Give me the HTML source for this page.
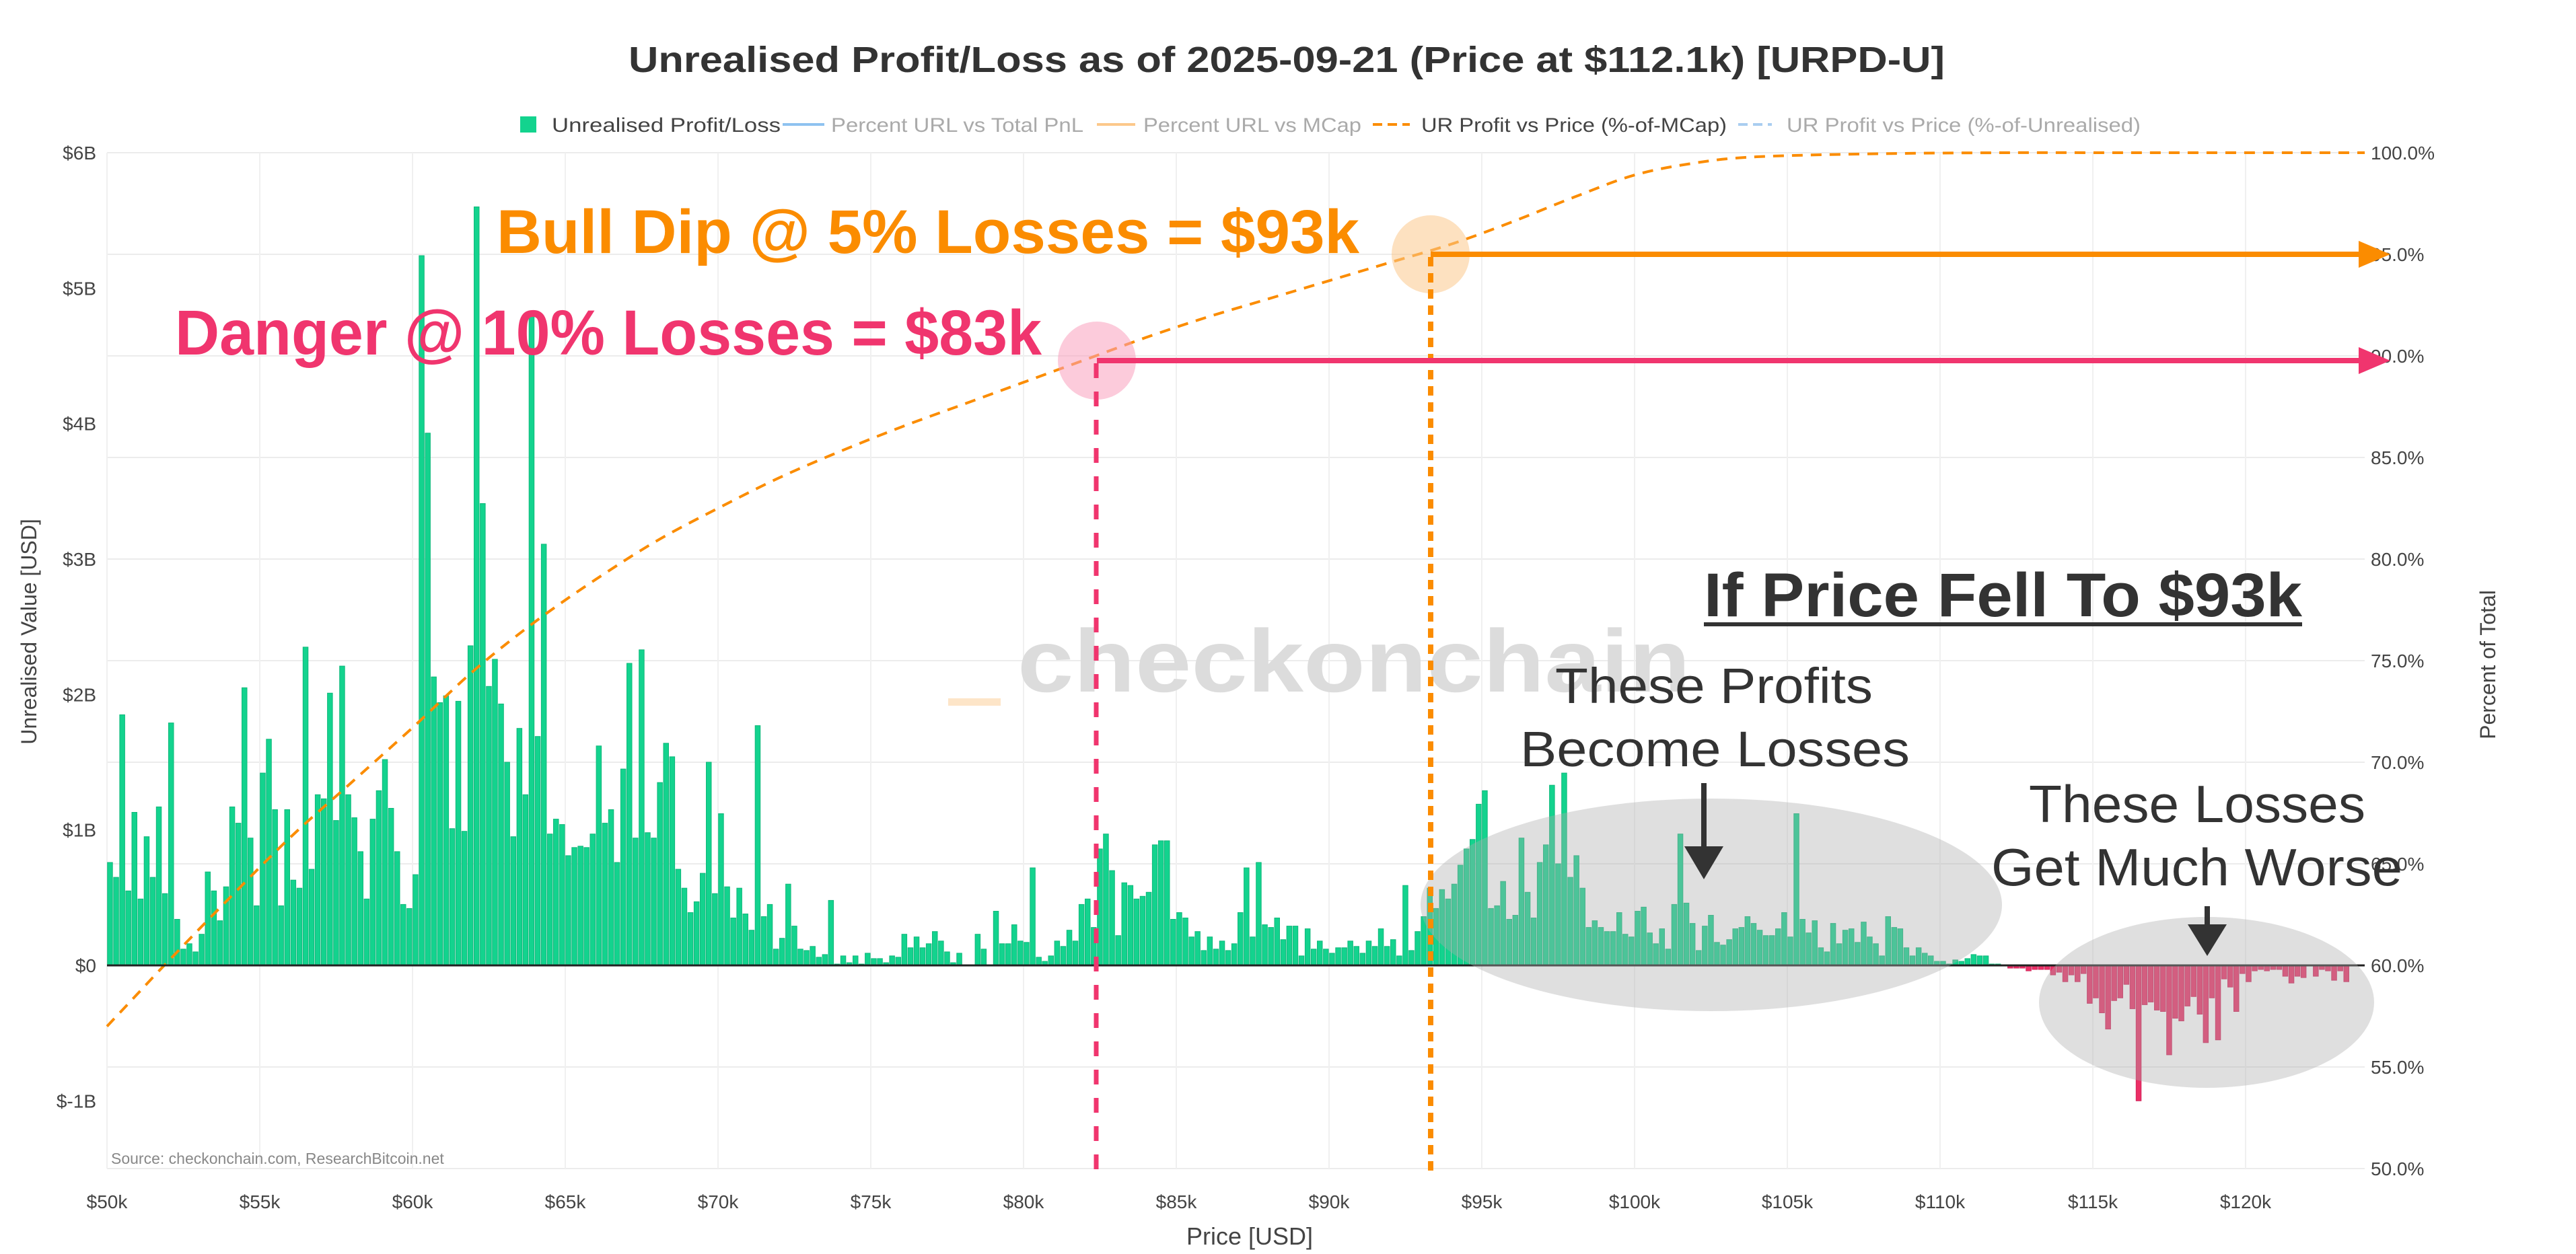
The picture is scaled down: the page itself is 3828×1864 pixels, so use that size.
<!DOCTYPE html>
<html><head><meta charset="utf-8">
<style>
html,body{margin:0;padding:0;background:#fff;}
svg{display:block;font-family:"Liberation Sans",sans-serif;}
</style></head>
<body>
<svg id="chart" width="3828" height="1864" viewBox="0 0 3828 1864" xmlns="http://www.w3.org/2000/svg">
<rect x="0" y="0" width="3828" height="1864" fill="#fff"/>
<g id="grid"></g>
<g id="watermark">
  <rect x="1409" y="1038" width="78" height="11" fill="#fde5c8"/>
  <text x="1512" y="1028" font-size="132" font-weight="bold" fill="#dcdcdc" textLength="1000" lengthAdjust="spacingAndGlyphs">checkonchain</text>
</g>
<g id="bars"></g>
<g id="curve"></g>
<g id="axes"></g>
<g id="annot">
  <ellipse cx="2543" cy="1345" rx="432" ry="158" fill="rgba(170,170,170,0.38)"/>
  <ellipse cx="3279" cy="1490" rx="249" ry="127" fill="rgba(170,170,170,0.38)"/>
  <circle cx="1630" cy="536" r="58" fill="rgba(250,160,190,0.55)"/>
  <circle cx="2126" cy="378" r="58" fill="rgba(252,200,140,0.55)"/>
  <line x1="1629" y1="540" x2="1629" y2="1745" stroke="#f0356e" stroke-width="7" stroke-dasharray="22,20"/>
  <line x1="2126" y1="382" x2="2126" y2="1745" stroke="#fb8c00" stroke-width="8" stroke-dasharray="14,10"/>
  <line x1="1630" y1="536" x2="3515" y2="536" stroke="#f0356e" stroke-width="8"/>
  <polygon points="3505,516 3552,536 3505,556" fill="#f0356e"/>
  <line x1="2126" y1="378" x2="3515" y2="378" stroke="#fb8c00" stroke-width="8"/>
  <polygon points="3505,358 3552,378 3505,398" fill="#fb8c00"/>
  <text x="738" y="376" font-size="92" font-weight="bold" fill="#fb8c00" textLength="1282" lengthAdjust="spacingAndGlyphs">Bull Dip @ 5% Losses = $93k</text>
  <text x="260" y="527" font-size="95" font-weight="bold" fill="#f0356e" textLength="1288" lengthAdjust="spacingAndGlyphs">Danger @ 10% Losses = $83k</text>
  <text x="2532" y="916" font-size="92" font-weight="bold" fill="#333" textLength="889" lengthAdjust="spacingAndGlyphs">If Price Fell To $93k</text>
  <rect x="2532" y="925" width="889" height="6" fill="#333"/>
  <text x="2311" y="1045" font-size="74" fill="#333" textLength="472" lengthAdjust="spacingAndGlyphs">These Profits</text>
  <text x="2259" y="1139" font-size="74" fill="#333" textLength="579" lengthAdjust="spacingAndGlyphs">Become Losses</text>
  <line x1="2532" y1="1164" x2="2532" y2="1262" stroke="#333" stroke-width="8"/>
  <polygon points="2503,1258 2561,1258 2532,1307" fill="#333"/>
  <text x="3015" y="1222" font-size="78" fill="#333" textLength="500" lengthAdjust="spacingAndGlyphs">These Losses</text>
  <text x="2959" y="1316" font-size="78" fill="#333" textLength="611" lengthAdjust="spacingAndGlyphs">Get Much Worse</text>
  <line x1="3280" y1="1347" x2="3280" y2="1378" stroke="#333" stroke-width="8"/>
  <polygon points="3251,1374 3309,1374 3280,1421" fill="#333"/>
</g>
<text x="934" y="107" font-size="54" font-weight="bold" fill="#333" textLength="1956" lengthAdjust="spacingAndGlyphs">Unrealised Profit/Loss as of 2025-09-21 (Price at $112.1k) [URPD-U]</text>
<g>
  <g>
    <rect x="773" y="173" width="24" height="24" fill="#13d38e"/>
    <text x="820" y="196" font-size="30" fill="#444" textLength="340" lengthAdjust="spacingAndGlyphs">Unrealised Profit/Loss</text>
  </g>
  <g>
    <line x1="1163" y1="185" x2="1225" y2="185" stroke="#8ec2f0" stroke-width="4"/>
    <text x="1235" y="196" font-size="30" fill="#aaa" textLength="375" lengthAdjust="spacingAndGlyphs">Percent URL vs Total PnL</text>
  </g>
  <g>
    <line x1="1630" y1="185" x2="1687" y2="185" stroke="#fcc88a" stroke-width="4"/>
    <text x="1699" y="196" font-size="30" fill="#aaa" textLength="324" lengthAdjust="spacingAndGlyphs">Percent URL vs MCap</text>
  </g>
  <g>
    <line x1="2040" y1="185" x2="2095" y2="185" stroke="#fb8c00" stroke-width="4" stroke-dasharray="14,8"/>
    <text x="2112" y="196" font-size="30" fill="#444" textLength="454" lengthAdjust="spacingAndGlyphs">UR Profit vs Price (%-of-MCap)</text>
  </g>
  <g>
    <line x1="2583" y1="185" x2="2633" y2="185" stroke="#a9cdf0" stroke-width="4" stroke-dasharray="14,8"/>
    <text x="2655" y="196" font-size="30" fill="#aaa" textLength="526" lengthAdjust="spacingAndGlyphs">UR Profit vs Price (%-of-Unrealised)</text>
  </g>
</g>
<text x="165" y="1730" font-size="23" fill="#888">Source: checkonchain.com, ResearchBitcoin.net</text>
<text x="1857" y="1850" font-size="36" fill="#444" text-anchor="middle">Price [USD]</text>
<text x="0" y="0" font-size="32" fill="#444" text-anchor="middle" transform="translate(54,939) rotate(-90)">Unrealised Value [USD]</text>
<text x="0" y="0" font-size="32" fill="#444" text-anchor="middle" transform="translate(3708,988) rotate(-90)">Percent of Total</text>
</svg>
<script>
const binStart = 50;   // $k
const binWidth = 0.2;  // $k
const binValues = [
0.76,0.65,1.85,0.55,1.13,0.49,0.95,0.65,1.17,0.53,
1.79,0.34,0.12,0.16,0.10,0.23,0.69,0.55,0.33,0.58,
1.17,1.05,2.05,0.94,0.44,1.42,1.67,1.15,0.44,1.15,
0.63,0.57,2.35,0.71,1.26,1.23,2.01,1.07,2.21,1.26,
1.09,0.84,0.49,1.08,1.29,1.52,1.16,0.84,0.45,0.42,
0.67,5.24,3.93,2.13,1.94,1.99,1.01,1.95,0.99,2.36,
5.60,3.41,2.06,2.26,1.93,1.50,0.95,1.75,1.26,4.79,
1.69,3.11,0.97,1.08,1.04,0.81,0.87,
0.88,0.87,0.97,1.62,1.05,1.15,0.76,1.45,2.23,0.94,2.33,0.98,0.94,1.35,1.64,1.54,0.71,0.57,0.39,0.47,0.68,1.50,0.53,1.12,0.58,0.35,0.57,0.38,0.26,1.77,0.36,0.45,0.12,0.20,0.60,0.29,0.12,0.11,0.14,0.06,0.08,0.48,0.01,0.07,0.02,0.07,0.01,0.09,0.05,0.05,0.02,0.07,0.06,0.23,0.13,0.21,0.13,0.16,0.25,0.18,0.10,0.02,0.09,0,0,0.23,0.12,0,0.40,0.16,0.16,0.30,0.18,0.17,0.72,
0.06,0.03,0.07,0.18,0.14,0.26,0.18,0.45,0.49,0.28,0.86,0.97,0.70,0.22,0.61,0.59,0.49,0.51,0.54,0.89,0.92,0.92,0.34,0.39,0.35,0.21,0.25,0.11,0.21,0.12,0.18,0.11,0.16,0.39,0.72,0.21,0.76,0.30,0.28,0.35,0.19,0.29,0.29,0.07,0.27,0.12,0.18,0.12,0.09,0.13,0.13,0.18,0.14,0.09,0.18,0.14,0.27,0.14,0.19,0.07,0.59,0.11,0.25,0.36,0.57,0.42,0.56,0.49,0.60,0.74,0.86,0.93,1.19,1.29,0.42,
0.44,0.62,0.34,0.37,0.94,0.54,0.35,0.76,0.89,1.33,0.75,1.42,0.65,0.81,0.57,0.28,0.33,0.28,0.25,0.25,0.39,0.23,0.21,0.40,0.43,0.24,0.16,0.27,0.12,0.45,0.97,0.46,0.31,0.11,0.29,0.37,0.17,0.15,0.19,0.27,0.28,0.36,0.31,0.26,0.22,0.22,0.27,0.39,0.21,1.12,0.34,0.24,0.33,0.13,0.10,0.31,0.16,0.26,0.27,0.17,0.32,0.21,0.16,0.07,0.36,0.28,0.27,0.13,0.07,0.13,0.09,0.07,0.03,0.03,0.01,0.04,
0.03,0.05,0.08,0.07,0.07,0.01,0.01,0,
-0.02,-0.02,-0.02,-0.04,-0.03,-0.03,-0.03,-0.07,-0.05,-0.12,-0.07,-0.12,-0.06,-0.28,-0.24,-0.35,-0.47,-0.26,-0.24,-0.14,-0.32,-1.00,-0.29,-0.27,-0.33,-0.34,-0.66,-0.39,-0.41,-0.30,-0.23,-0.36,-0.57,-0.24,-0.55,-0.10,-0.16,-0.34,-0.06,-0.12,-0.04,-0.03,-0.04,-0.03,-0.03,-0.08,-0.13,-0.08,-0.09,0,-0.08,-0.03,-0.04,-0.11,-0.04,-0.12
];
const curvePrices = [50,51,52,54,56,58,60,62,64,66,68,70,72,74,76,78,80,82,84,86,88,90,92,94,96,98,100,102,104,108,112,116,120,123.9];
const curvePct = [57.0,58.6,60.2,63.3,66.3,69.0,71.7,74.5,76.9,79.0,80.9,82.5,84.0,85.3,86.5,87.6,88.7,89.8,90.9,91.9,92.8,93.7,94.6,95.5,96.6,97.8,98.9,99.5,99.8,99.95,100,100,100,100];
const xTicks = [50,55,60,65,70,75,80,85,90,95,100,105,110,115,120];
const xTickLabels = ["$50k","$55k","$60k","$65k","$70k","$75k","$80k","$85k","$90k","$95k","$100k","$105k","$110k","$115k","$120k"];
const yTicks = [-1,0,1,2,3,4,5,6];
const yTickLabels = ["$-1B","$0","$1B","$2B","$3B","$4B","$5B","$6B"];
const pctTicks = [50,55,60,65,70,75,80,85,90,95,100];
const pctTickLabels = ["50.0%","55.0%","60.0%","65.0%","70.0%","75.0%","80.0%","85.0%","90.0%","95.0%","100.0%"];

const NS = "http://www.w3.org/2000/svg";
const PL = 159, PR = 3514, PT = 227, PB = 1737;
const X0 = 50, X1 = 50 + (PR - PL) / 45.4;
function xS(p){ return PL + (p - X0) / (X1 - X0) * (PR - PL); }
function yL(v){ return PB - (v + 1.5) / 7.5 * (PB - PT); }
function yR(p){ return PB - (p - 50) / 50 * (PB - PT); }
function mk(tag, attrs, parent){ const e = document.createElementNS(NS, tag); for (const k in attrs) e.setAttribute(k, attrs[k]); parent.appendChild(e); return e; }

const grid = document.getElementById('grid');
pctTicks.forEach(function(p){
  const l = mk('line', {x1:PL, x2:PR, y1:yR(p), y2:yR(p), stroke:'#ececec', 'stroke-width':2}, grid);
  
  
});
xTicks.forEach(function(t){
  const l = mk('line', {x1:xS(t), x2:xS(t), y1:PT, y2:PB, stroke:'#f0f0f0', 'stroke-width':2}, grid);
  
  
});

const bars = document.getElementById('bars');
const bw = binWidth * (PR - PL) / (X1 - X0);
binValues.forEach(function(v, i){
  if (v === 0) return;
  const x = xS(binStart + i * binWidth) + 0.7;
  const y0 = yL(0), y1 = yL(v);
  const r = mk('rect', {x:x.toFixed(1), y:Math.min(y0,y1).toFixed(1), width:(bw-1.6).toFixed(1), height:Math.max(1,Math.abs(y1-y0)).toFixed(1), fill: v > 0 ? '#13d38e' : '#ec2f66', stroke: v > 0 ? '#0fb87a' : '#d0245a', 'stroke-width':1}, bars);
  
  
});

const curve = document.getElementById('curve');
const P = curvePrices.map(function(p, i){ return [xS(p), yR(curvePct[i])]; });
let d = 'M' + P[0][0].toFixed(1) + ',' + P[0][1].toFixed(1);
for (let i = 0; i < P.length - 1; i++) {
  const p0 = P[Math.max(0, i-1)], p1 = P[i], p2 = P[i+1], p3 = P[Math.min(P.length-1, i+2)];
  const c1x = p1[0] + (p2[0]-p0[0])/6, c1y = p1[1] + (p2[1]-p0[1])/6;
  const c2x = p2[0] - (p3[0]-p1[0])/6, c2y = p2[1] - (p3[1]-p1[1])/6;
  d += ' C' + c1x.toFixed(1) + ',' + c1y.toFixed(1) + ' ' + c2x.toFixed(1) + ',' + c2y.toFixed(1) + ' ' + p2[0].toFixed(1) + ',' + p2[1].toFixed(1);
}
const pl = mk('path', {d:d, fill:'none', stroke:'#fb8c00', 'stroke-width':4, 'stroke-dasharray':'16,12'}, curve);



const axes = document.getElementById('axes');
const zl = mk('line', {x1:PL, x2:PR, y1:yL(0), y2:yL(0), stroke:'#222', 'stroke-width':3}, axes);


yTicks.forEach(function(t, i){
  const tx = mk('text', {x:143, y:yL(t)+10, 'font-size':28, fill:'#444', 'text-anchor':'end'}, axes);
  tx.textContent = yTickLabels[i];
  
  
});
pctTicks.forEach(function(p, i){
  const tx = mk('text', {x:3523, y:yR(p)+10, 'font-size':28, fill:'#444'}, axes);
  tx.textContent = pctTickLabels[i];
  
  
});
xTicks.forEach(function(t, i){
  const tx = mk('text', {x:xS(t), y:1796, 'font-size':28, fill:'#444', 'text-anchor':'middle'}, axes);
  tx.textContent = xTickLabels[i];
  
  
});
</script>
</body></html>
